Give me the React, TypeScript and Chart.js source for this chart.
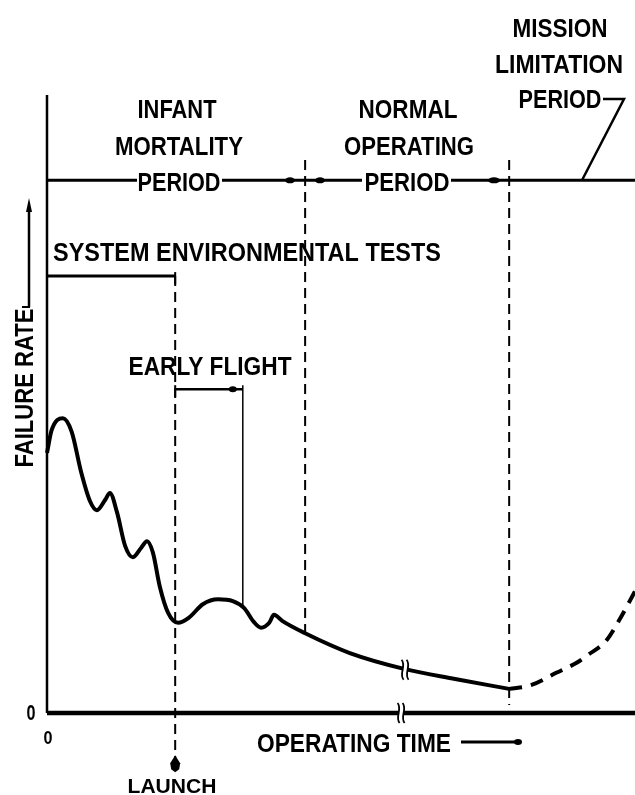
import { useEffect, useRef } from "react";
import { Chart, registerables } from "chart.js";

Chart.register(...registerables);

// Operating time (0..100, arbitrary units) vs failure rate (0..100, arbitrary units)
const curveTime = [0, 0.8, 2.7, 4.2, 5.8, 7.3, 8.5, 9.9, 10.7, 11.9, 13.3, 14.6, 16.0, 17.0, 18.0, 19.2, 20.6, 22.3, 24.1, 26.5, 29.1, 31.6, 33.5, 35.2, 36.4, 37.8, 38.6, 40.0, 43.9, 51.5, 60.9, 69.4, 78.6];
const curveRate = [42.1, 45.8, 47.7, 45.5, 39.0, 34.3, 32.8, 34.5, 35.6, 32.5, 27.0, 25.2, 26.7, 27.8, 26.0, 20.4, 16.2, 14.6, 15.4, 17.6, 18.4, 18.1, 17.0, 14.7, 13.8, 14.6, 15.9, 14.9, 12.9, 9.7, 7.1, 5.5, 3.9];
const wearTime = [78.6, 82.3, 86.6, 90.0, 92.0, 95.1, 97.3, 100];
const wearRate = [3.9, 4.5, 6.5, 8.1, 9.4, 11.7, 15.0, 19.7];

// Phase boundaries (operating time)
const launchTime = 21.8;
const normalStart = 43.9;
const missionStart = 78.6;
const earlyFlightEnd = 33.3;
const breakTime = 60.9;
const earlyFlightEndRate = 17.0;
const normalStartRate = 12.9;

// Label texts
const infantLabel = ["INFANT", "MORTALITY", "PERIOD"];
const normalLabel = ["NORMAL", "OPERATING", "PERIOD"];
const missionLabel = ["MISSION", "LIMITATION", "PERIOD"];
const testsLabel = "SYSTEM ENVIRONMENTAL TESTS";
const flightLabel = "EARLY FLIGHT";
const yTitle = "FAILURE RATE";
const xTitle = "OPERATING TIME";
const launchLabel = "LAUNCH";
const zeroLabel = "0";

const FONT = '"Liberation Sans", Arial, sans-serif';

function label(ctx: CanvasRenderingContext2D, text: string, cx: number, cy: number, w: number, cap: number, rot = 0) {
  ctx.save();
  ctx.translate(cx, cy);
  if (rot) ctx.rotate(rot);
  const size = cap / 0.716;
  ctx.font = `bold ${size}px ${FONT}`;
  const m = ctx.measureText(text).width;
  ctx.scale(w / m, 1);
  ctx.textAlign = "center";
  ctx.textBaseline = "alphabetic";
  ctx.fillStyle = "#000";
  ctx.fillText(text, 0, cap / 2);
  ctx.restore();
}

function line(ctx: CanvasRenderingContext2D, pts: number[][], width: number, dash: number[] = []) {
  ctx.save();
  ctx.beginPath();
  ctx.setLineDash(dash);
  ctx.lineWidth = width;
  ctx.strokeStyle = "#000";
  ctx.lineCap = "butt";
  ctx.moveTo(pts[0][0], pts[0][1]);
  for (let i = 1; i < pts.length; i++) ctx.lineTo(pts[i][0], pts[i][1]);
  ctx.stroke();
  ctx.restore();
}

function dot(ctx: CanvasRenderingContext2D, x: number, y: number, rx: number, ry: number) {
  ctx.save();
  ctx.beginPath();
  ctx.ellipse(x, y, rx, ry, 0, 0, Math.PI * 2);
  ctx.fillStyle = "#000";
  ctx.fill();
  ctx.restore();
}

const decor = {
  id: "decor",
  beforeDatasetsDraw(chart: any) {
    const ctx: CanvasRenderingContext2D = chart.ctx;
    const xs = chart.scales.x;
    const ys = chart.scales.y;
    const X = (v: number) => xs.getPixelForValue(v);
    const Y = (v: number) => ys.getPixelForValue(v);
    const periodY = Y(86.2);

    // axes
    line(ctx, [[X(0), Y(100)], [X(0), Y(0)]], 2.5);
    line(ctx, [[X(0), Y(0)], [X(100), Y(0)]], 4.5);

    // period line with gaps for the labels
    line(ctx, [[X(0), periodY], [137, periodY]], 3);
    line(ctx, [[222, periodY], [362, periodY]], 3);
    line(ctx, [[451, periodY], [X(100), periodY]], 3);
    dot(ctx, 290, periodY, 5, 3);
    dot(ctx, 320, periodY, 5, 3);
    dot(ctx, 494, periodY, 6, 3);

    // phase boundaries
    line(ctx, [[X(launchTime), Y(70.7)], [X(launchTime), Y(-7.5)]], 2, [10, 6]);
    line(ctx, [[X(normalStart), Y(89.5)], [X(normalStart), Y(normalStartRate)]], 2, [10, 6]);
    line(ctx, [[X(missionStart), Y(89.5)], [X(missionStart), Y(1.3)]], 2, [10, 6]);

    // system environmental tests bar
    line(ctx, [[X(0), Y(70.7)], [X(launchTime), Y(70.7)]], 3);
    line(ctx, [[X(launchTime), Y(70.7) - 4], [X(launchTime), Y(70.7) + 8]], 2);

    // early flight bar
    line(ctx, [[X(launchTime), Y(52.4)], [X(earlyFlightEnd), Y(52.4)]], 2.5);
    line(ctx, [[X(launchTime), Y(52.4) - 4], [X(launchTime), Y(52.4) + 8]], 2);
    line(ctx, [[X(earlyFlightEnd), Y(52.4) - 4], [X(earlyFlightEnd), Y(earlyFlightEndRate)]], 1.5);
    dot(ctx, X(earlyFlightEnd) - 10, Y(52.4), 4, 3);

    // launch marker
    ctx.save();
    ctx.beginPath();
    const lx = X(launchTime), ly = Y(-7.5) - 4;
    ctx.moveTo(lx, ly);
    ctx.lineTo(lx + 5, ly + 8);
    ctx.lineTo(lx + 4, ly + 14);
    ctx.lineTo(lx, ly + 17);
    ctx.lineTo(lx - 4, ly + 14);
    ctx.lineTo(lx - 5, ly + 8);
    ctx.closePath();
    ctx.fillStyle = "#000";
    ctx.fill();
    ctx.restore();

    // mission leader line
    line(ctx, [[603, 99], [624, 99], [582, periodY]], 2.5);

    // y-title arrow
    line(ctx, [[29, 307], [29, 210]], 2.5);
    ctx.save();
    ctx.beginPath();
    ctx.moveTo(29, 198);
    ctx.lineTo(32, 212);
    ctx.lineTo(26, 212);
    ctx.closePath();
    ctx.fill();
    ctx.restore();
    line(ctx, [[22, 307], [30, 307]], 2);

    // x-title arrow
    line(ctx, [[461, 742], [516, 742]], 3);
    dot(ctx, 518, 742, 4, 3);
  },
  afterDatasetsDraw(chart: any) {
    const ctx: CanvasRenderingContext2D = chart.ctx;
    const xs = chart.scales.x;
    const ys = chart.scales.y;
    const X = (v: number) => xs.getPixelForValue(v);
    const Y = (v: number) => ys.getPixelForValue(v);

    // scale breaks
    const breaks = [[X(breakTime), Y(7.0)], [X(breakTime) - 4, Y(0)]];
    for (const [bx, by] of breaks) {
      ctx.save();
      ctx.fillStyle = "#fff";
      ctx.fillRect(bx - 2, by - 6, 4, 12);
      ctx.strokeStyle = "#000";
      ctx.lineWidth = 1.8;
      for (const off of [-2.5, 2.5]) {
        ctx.beginPath();
        ctx.moveTo(bx + off - 1, by - 10);
        ctx.bezierCurveTo(bx + off + 4, by - 4, bx + off - 4, by + 4, bx + off + 1, by + 10);
        ctx.stroke();
      }
      ctx.restore();
    }

    // labels
    label(ctx, infantLabel[0], 177, 108, 79, 19);
    label(ctx, infantLabel[1], 179, 145, 128, 19);
    label(ctx, infantLabel[2], 179, 181, 83, 19);
    label(ctx, normalLabel[0], 408, 108, 99, 19);
    label(ctx, normalLabel[1], 409, 145, 130, 19);
    label(ctx, normalLabel[2], 407, 181, 85, 19);
    label(ctx, missionLabel[0], 560, 27, 95, 19);
    label(ctx, missionLabel[1], 559, 63, 128, 19);
    label(ctx, missionLabel[2], 560, 98, 83, 19);
    label(ctx, testsLabel, 247, 251, 388, 19);
    label(ctx, flightLabel, 210, 365, 163, 19);
    label(ctx, yTitle, 24, 388, 159, 18, -Math.PI / 2);
    label(ctx, xTitle, 354, 742, 194, 19);
    label(ctx, launchLabel, 172, 785, 89, 15);
    label(ctx, zeroLabel, 31, 712, 9, 16);
    label(ctx, zeroLabel, 48, 737, 9, 13);
  },
};

export default function App() {
  const ref = useRef<HTMLCanvasElement | null>(null);
  useEffect(() => {
    if (!ref.current) return;
    const chart = new Chart(ref.current, {
      type: "line",
      data: {
        datasets: [
          {
            data: curveTime.map((t, i) => ({ x: t, y: curveRate[i] })),
            borderColor: "#000",
            borderWidth: 4,
            pointRadius: 0,
            cubicInterpolationMode: "monotone",
            clip: false,
          },
          {
            data: wearTime.map((t, i) => ({ x: t, y: wearRate[i] })),
            borderColor: "#000",
            borderWidth: 4,
            borderDash: [13, 9],
            pointRadius: 0,
            cubicInterpolationMode: "monotone",
            clip: false,
          },
        ],
      } as any,
      options: {
        animation: false,
        responsive: false,
        layout: { padding: { left: 47, right: 0, top: 95, bottom: 82 } },
        scales: {
          x: { type: "linear", min: 0, max: 100, display: false },
          y: { type: "linear", min: 0, max: 100, display: false },
        },
        plugins: { legend: { display: false }, tooltip: { enabled: false } },
      } as any,
      plugins: [decor],
    });
    return () => chart.destroy();
  }, []);
  return (
    <div style={{ position: "absolute", left: 0, top: 0, width: 635, height: 795, background: "#fff" }}>
      <canvas ref={ref} width={635} height={795} />
    </div>
  );
}
